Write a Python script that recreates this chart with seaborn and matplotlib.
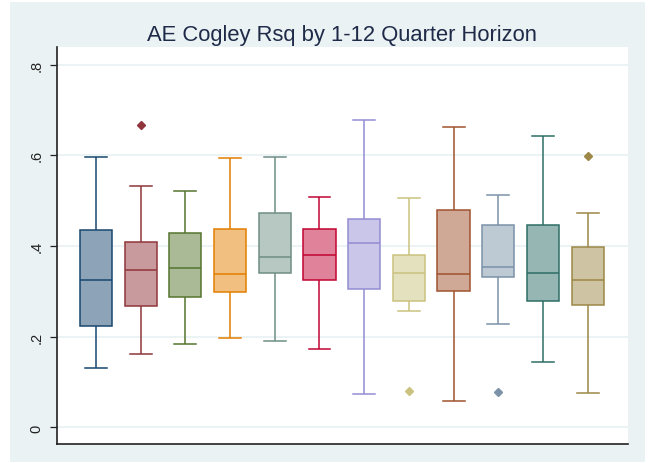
import numpy as np
import pandas as pd
import matplotlib
matplotlib.use("Agg")
import matplotlib.pyplot as plt
from matplotlib.patches import Rectangle
import seaborn as sns

# ---- data (per horizon 1..12) ----
horizons = [str(i) for i in range(1, 13)]
lo  = [0.132, 0.161, 0.185, 0.197, 0.191, 0.173, 0.073, 0.256, 0.058, 0.229, 0.144, 0.076]
q1  = [0.223, 0.267, 0.288, 0.299, 0.341, 0.326, 0.306, 0.279, 0.300, 0.332, 0.279, 0.271]
med = [0.326, 0.346, 0.352, 0.338, 0.376, 0.380, 0.406, 0.341, 0.338, 0.353, 0.341, 0.324]
q3  = [0.435, 0.408, 0.429, 0.438, 0.473, 0.438, 0.459, 0.380, 0.479, 0.447, 0.447, 0.397]
hi  = [0.597, 0.533, 0.521, 0.594, 0.597, 0.509, 0.678, 0.506, 0.662, 0.512, 0.642, 0.473]
outliers = [[], [0.667], [], [], [], [], [], [0.080], [], [0.078], [], [0.599]]

ytick_vals = [0, 0.2, 0.4, 0.6, 0.8]
ytick_labels = ["0", ".2", ".4", ".6", ".8"]
title = "AE Cogley Rsq by 1-12 Quarter Horizon"

line_colors = ["#1a476f", "#90353b", "#55752f", "#e37e00", "#6e8e84", "#c10534",
               "#938dd2", "#cac27e", "#a0522d", "#7b92a8", "#2d6d66", "#9c8847"]

def lighten(c, f=0.5):
    r, g, b = matplotlib.colors.to_rgb(c)
    return (r + (1 - r) * f, g + (1 - g) * f, b + (1 - b) * f)

fill_colors = [lighten(c) for c in line_colors]

# long-form table whose quartiles/whiskers reproduce the read summary
rows = []
for i, h in enumerate(horizons):
    vals = [lo[i]] + [q1[i]] * 3 + [med[i]] * 3 + [q3[i]] * 3 + [hi[i]] + outliers[i]
    rows += [(h, v) for v in vals]
df = pd.DataFrame(rows, columns=["horizon", "rsq"])

# ---- figure ----
W, H = 648, 464
fig = plt.figure(figsize=(W / 100, H / 100), dpi=100, facecolor="white")
bg = "#eaf2f3"
fig.patches.append(Rectangle((10 / W, 1 / H), 635 / W, 460 / H, transform=fig.transFigure,
                             facecolor=bg, edgecolor="none", zorder=-10))

ax = fig.add_axes([57 / W, (H - 445) / H, (627.7 - 57) / W, (445 - 48) / H])
ax.set_facecolor("white")

for y in ytick_vals:
    ax.axhline(y, color=bg, lw=1.3, zorder=0)

for i, h in enumerate(horizons):
    sns.boxplot(data=df[df["horizon"] == h], x="horizon", y="rsq", order=horizons,
                color=fill_colors[i], linecolor=line_colors[i], saturation=1,
                width=0.72, whis=1.56, linewidth=1.1, ax=ax, capwidths=0.49,
                flierprops=dict(marker="D", markerfacecolor=line_colors[i],
                                markeredgecolor=line_colors[i], markersize=4.2))

ax.set_xlim(-0.872, 11.895)
ax.set_ylim(-0.0364, 0.8386)
ax.set_xticks([])
ax.set_xlabel("")
ax.set_ylabel("")
ax.set_yticks(ytick_vals)
ax.set_yticklabels(ytick_labels, rotation=90, va="center", fontsize=10.5,
                   family=["Liberation Sans", "DejaVu Sans"], color="#222222")
ax.tick_params(axis="y", length=5, width=0.9, color="#222222", pad=4.5)

for s in ["top", "right"]:
    ax.spines[s].set_visible(False)
for s in ["left", "bottom"]:
    ax.spines[s].set_color("#222222")
    ax.spines[s].set_linewidth(1.2)

ax.set_title(title, fontsize=15.8, color="#1e2a48", pad=5,
             family=["Liberation Sans", "DejaVu Sans"])

fig.savefig("out.png", dpi=100, facecolor="white")
